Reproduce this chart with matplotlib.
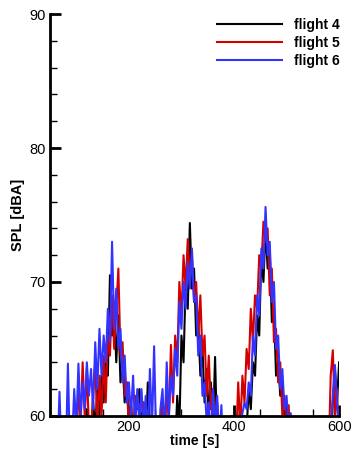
import numpy as np
import matplotlib
matplotlib.use("Agg")
import matplotlib.pyplot as plt
from matplotlib.ticker import MultipleLocator

plt.rcParams['font.family'] = ['Liberation Sans', 'DejaVu Sans']

# -------------------------------
# Dados (SPL, passo de 4 s)
# -------------------------------
t0, passo = 64, 4
voo4 = [57, 57, 57, 57, 57, 57, 57, 57, 57, 57,
        57, 58, 57, 59, 60.5, 57, 58, 61, 59, 62,
        60, 63, 61, 64.5, 63, 70.5, 66, 68, 64, 67.5,
        62.5, 64, 61, 62.5, 59.5, 61, 58, 61, 60.5, 62,
        59, 61, 58, 62.5, 59, 57, 58, 57, 57, 58,
        57, 59, 57, 58, 57, 59, 57.5, 61.5, 59, 66,
        64, 70, 68, 74.4, 69.5, 71, 66, 67, 63, 65,
        61, 63.5, 60, 62.5, 59, 64.4, 58, 60, 57, 57,
        57, 57, 57, 57, 58, 57, 59, 60.5, 58, 60,
        59, 62, 60.5, 64, 63, 67.5, 66, 72, 70, 74,
        71, 72.5, 67, 68, 63, 64, 61.5, 62.5, 60, 61,
        57, 57, 57, 57, 57, 57, 57, 57, 57, 57,
        57, 57, 57, 57, 57, 57, 57, 57, 57, 57,
        58, 61, 63.5, 61, 64]
voo5 = [57, 57, 57, 57, 57, 57, 57, 57, 57, 58,
        62.5, 59, 64, 60, 63.5, 59, 58.5, 62, 64, 59,
        63, 60, 64.5, 61, 66, 64.5, 69, 65, 68, 71,
        64.5, 65.5, 61.5, 62.5, 59, 61, 58.5, 61.5, 58, 60.5,
        58, 61, 57, 59.5, 57, 60, 57, 57, 58, 59,
        61, 58, 62, 59.5, 65.3, 61, 66, 64, 70, 67.5,
        72, 69.5, 73.2, 70, 72, 68.5, 70, 66, 69, 64.5,
        66, 61.5, 64.5, 60.5, 62, 59, 61, 58, 57, 57,
        57, 58, 57, 60, 57, 58, 62.5, 59, 63, 61,
        65, 63.5, 68, 65.5, 69, 68, 72, 71, 74.5, 73,
        74, 69, 71, 65.5, 66.5, 62.5, 64, 60, 61.5, 59,
        60.8, 57, 57, 57, 57, 57, 57, 57, 57, 57,
        57, 57, 57, 57, 57, 57, 57, 57, 57, 57,
        63, 64.9, 60, 62, 57]
voo6 = [57, 61.8, 57, 58, 57, 63.9, 57, 58, 62, 59,
        63.9, 60, 62.5, 60.5, 64, 61.5, 63.5, 60.5, 65.5, 62,
        66.5, 63, 66, 64, 68, 65.5, 73, 66.5, 69.5, 65,
        66.5, 62.5, 64.5, 61, 62.5, 60, 63, 59, 62, 59.5,
        62, 59, 61.5, 58, 63.5, 59, 65.2, 58, 57, 60.5,
        62, 58.5, 64, 60, 63, 61.5, 65, 63, 68.5, 66.5,
        70, 68, 71.5, 69.5, 72.5, 68.5, 69, 64.5, 66, 61.5,
        62.5, 59.5, 61, 58, 62, 59, 61.5, 58, 60.8, 57,
        57, 58, 57, 57, 57, 58, 57, 59, 60.2, 61,
        60.5, 62.5, 61.5, 66, 64.5, 69, 67.5, 72.5, 71, 75.6,
        72, 73, 68.5, 70, 65, 66, 62, 63.5, 60.5, 61.5,
        59, 60.2, 57, 57, 57, 57, 57, 57, 57, 57,
        57, 57, 57, 57, 57, 57, 57, 57, 57, 57,
        59, 61.5, 63.8, 61, 59]

series = [(voo4, 'black', 'flight 4'),
          (voo5, '#d40000', 'flight 5'),
          (voo6, '#3333ff', 'flight 6')]

# -------------------------------
# Gráfico
# -------------------------------
fig = plt.figure(figsize=(3.6, 4.55), dpi=100)
ax = fig.add_axes([0.139, 0.086, 0.803, 0.883])

for valores, cor, rotulo in series:
    t = t0 + passo * np.arange(len(valores))
    ax.plot(t, valores, color=cor, lw=1.5, label=rotulo)

ax.set_xlim(50, 600)
ax.set_ylim(60, 90)
ax.xaxis.set_major_locator(MultipleLocator(200))
ax.xaxis.set_minor_locator(MultipleLocator(50))
ax.yaxis.set_major_locator(MultipleLocator(10))
ax.yaxis.set_minor_locator(MultipleLocator(2))

for lado in ['top', 'right']:
    ax.spines[lado].set_visible(False)
for lado in ['left', 'bottom']:
    ax.spines[lado].set_linewidth(2)

ax.tick_params(which='major', direction='in', length=8, width=2, labelsize=10.5, pad=3)
ax.tick_params(which='minor', direction='in', length=5, width=1)

ax.set_xlabel('time [s]', fontsize=10, fontweight='bold', labelpad=0)
ax.set_ylabel('SPL [dBA]', fontsize=10.5, fontweight='bold', labelpad=3)

leg = ax.legend(loc='upper right', frameon=False, handlelength=4.7,
                prop={'weight': 'bold', 'size': 10}, labelspacing=0.3,
                borderaxespad=0, bbox_to_anchor=(1.02, 1.005),
                handletextpad=0.8)

fig.savefig('out.png', dpi=100)
